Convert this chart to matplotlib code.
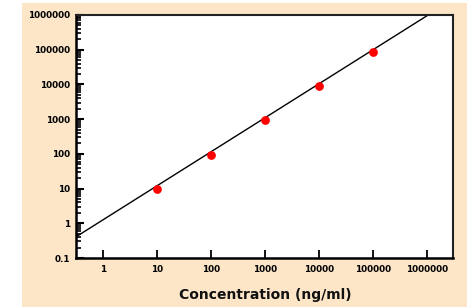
import numpy as np
import matplotlib
matplotlib.use("Agg")
import matplotlib.pyplot as plt
from matplotlib.patches import Rectangle
from matplotlib.ticker import LogLocator, FixedLocator, FixedFormatter, NullFormatter

# Data
conc = [10, 100, 1000, 10000, 100000]
signal = [10, 95, 950, 9000, 85000]
fit_slope = 0.98
fit_intercept = 0.1
x_ticks = [1, 10, 100, 1000, 10000, 100000, 1000000]
x_tick_labels = ["1", "10", "100", "1000", "10000", "100000", "1000000"]
y_ticks = [0.1, 1, 10, 100, 1000, 10000, 100000, 1000000]
y_tick_labels = ["0.1", "1", "10", "100", "1000", "10000", "100000", "1000000"]
x_label = "Concentration (ng/ml)"

fig = plt.figure(figsize=(4.77, 3.07), dpi=100, facecolor="white")
fig.patches.append(Rectangle((22 / 477, 0), (467 - 22) / 477, 1 - 3 / 307,
                             transform=fig.transFigure, facecolor="#fde6c8",
                             edgecolor="none", zorder=-10))

ax = fig.add_axes([76 / 477, 1 - 258 / 307, (453 - 76) / 477, (258 - 15) / 307])
ax.set_zorder(5)
ax.set_facecolor("white")
ax.set_xscale("log")
ax.set_yscale("log")
xmin, xmax = 10 ** -0.5, 10 ** 6.48
ax.set_xlim(xmin, xmax)
ax.set_ylim(0.1, 1e6)

xs = np.logspace(np.log10(xmin), np.log10(xmax), 200)
ys = 10 ** (fit_slope * np.log10(xs) + fit_intercept)
ax.plot(xs, ys, color="black", lw=1.0, zorder=2)
ax.plot(conc, signal, "o", color="#ff0000", markersize=6.3, markeredgewidth=0, zorder=3)

tick_font = dict(family="DejaVu Sans", weight="bold", size=6.4)
ax.xaxis.set_major_locator(FixedLocator(x_ticks))
ax.xaxis.set_major_formatter(FixedFormatter(x_tick_labels))
ax.xaxis.set_minor_locator(FixedLocator([]))
ax.yaxis.set_major_locator(FixedLocator(y_ticks))
ax.yaxis.set_major_formatter(FixedFormatter(y_tick_labels))
ax.yaxis.set_minor_locator(LogLocator(base=10, subs=np.arange(2, 10), numticks=20))
ax.yaxis.set_minor_formatter(NullFormatter())

for lbl in ax.get_xticklabels() + ax.get_yticklabels():
    lbl.set_fontproperties(matplotlib.font_manager.FontProperties(**tick_font))

ax.tick_params(axis="x", which="major", direction="in", length=6, width=1.3,
               pad=5, colors="black", top=False)
ax.tick_params(axis="y", which="major", direction="in", length=5.5, width=1.5,
               pad=4, colors="black", right=False)
ax.tick_params(axis="y", which="minor", direction="in", length=3.5, width=1.2,
               right=False)

for side in ["left", "bottom"]:
    ax.spines[side].set_linewidth(1.8)
    ax.spines[side].set_color("black")
for side in ["top", "right"]:
    ax.spines[side].set_linewidth(1.5)
    ax.spines[side].set_color("#222222")

fig.text((179 + 352) / 2 / 477, 1 - 295 / 307, x_label, ha="center", va="center",
         fontsize=10, fontweight="bold", family="DejaVu Sans", color="#111111",
         zorder=6)

fig.savefig("out.png", dpi=100, facecolor="white")
